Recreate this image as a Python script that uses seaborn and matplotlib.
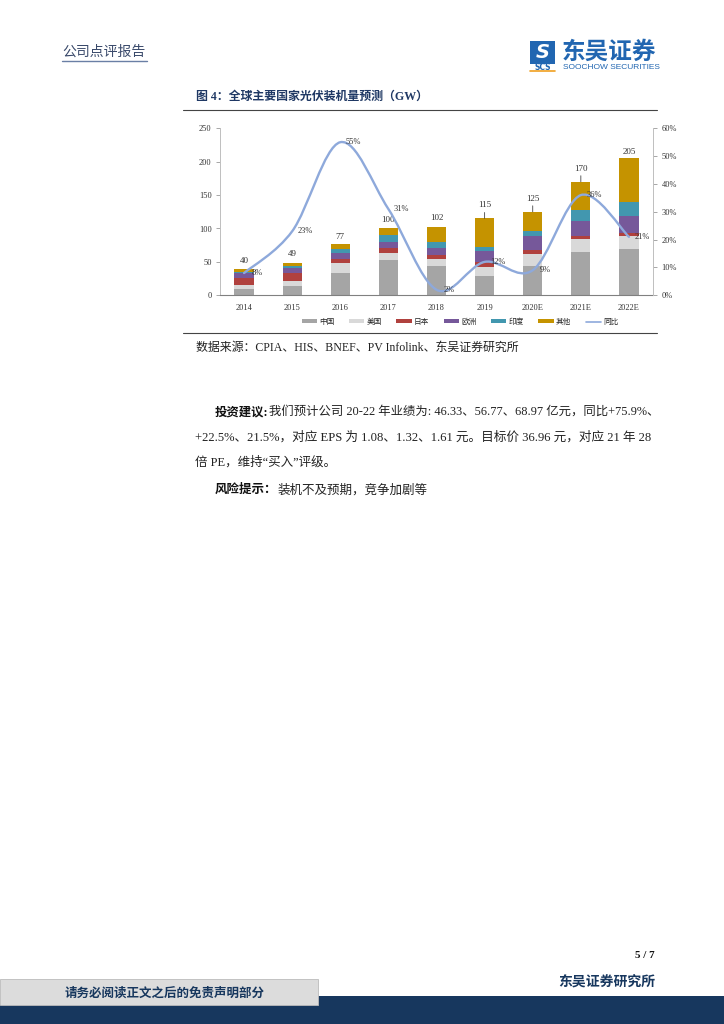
import numpy as np
import matplotlib
matplotlib.use("Agg")
import matplotlib.pyplot as plt
import seaborn as sns
from matplotlib.path import Path
from matplotlib.patches import PathPatch, Patch, Rectangle
from matplotlib.lines import Line2D

# ---------------- data ----------------
years = ['2014', '2015', '2016', '2017', '2018', '2019', '2020E', '2021E', '2022E']
china = [10, 14, 33.5, 53, 44, 29, 44.5, 65, 70]
usa = [6, 8, 15.5, 10.5, 10.5, 14, 18, 19.5, 18.5]
japan = [9.5, 12, 6, 7, 6.5, 7, 5, 4, 4.5]
europe = [8, 7, 8.5, 9.5, 10.5, 16.5, 21.5, 23, 25.5]
india = [1.5, 3, 6, 10.5, 8.5, 6, 8, 15.5, 21.5]
other = [5, 5, 7.5, 9.5, 22, 42.5, 28, 43, 65]
totals = [40, 49, 77, 100, 102, 115, 125, 170, 205]
yoy = [8, 23, 55, 31, 2, 12, 9, 36, 21]
series_names = ['中国', '美国', '日本', '欧洲', '印度', '其他']
line_name = '同比'
left_ticks = [0, 50, 100, 150, 200, 250]
right_ticks = [0, 10, 20, 30, 40, 50, 60]

# ---------------- style ----------------
sns.set_theme(style='white')
plt.rcParams['font.family'] = ['Liberation Serif', 'Noto Sans CJK SC', 'DejaVu Sans']
CJK = ['Noto Sans CJK SC', 'DejaVu Sans']
MIX = ['Liberation Serif', 'Noto Sans CJK SC', 'DejaVu Sans']
colors = ['#A5A5A5', '#D9D9D9', '#B0413E', '#76589A', '#4297AF', '#C59300']
line_color = '#8EA9DB'
navy = '#17375E'
title_blue = '#1F3864'

W, H = 724, 1024
fig = plt.figure(figsize=(W / 100, H / 100), dpi=100)


def fx(px):
    return px / W


def fy(py):
    return 1 - py / H


# ---------------- chart axes ----------------
ax_l, ax_r, ax_t, ax_b = 220, 653, 128.3, 295.3
ax = fig.add_axes([fx(ax_l), fy(ax_b), fx(ax_r - ax_l), (ax_b - ax_t) / H])

layers = np.array([china, usa, japan, europe, india, other])
cum = np.cumsum(layers, axis=0)
for k in reversed(range(len(layers))):
    sns.barplot(x=years, y=cum[k], order=years, color=colors[k], width=0.4,
                saturation=1, linewidth=0, ax=ax)

ax.set_xlim(-0.5, len(years) - 0.5)
ax.set_ylim(0, 250)
ax.set_yticks(left_ticks)
ax.set_yticklabels([str(t) for t in left_ticks])
ax.set_xlabel('')
ax.set_ylabel('')
ax.tick_params(axis='x', which='major', length=0, pad=6, labelsize=6, labelcolor='#333333')
ax.set_xticks(np.arange(len(years) + 1) - 0.5, minor=True)
ax.tick_params(axis='x', which='minor', length=3, width=0.6, color='#666666', direction='out')
ax.tick_params(axis='y', length=3, width=0.6, color='#999999', direction='out',
               labelsize=6, labelcolor='#333333', pad=3, left=True)
ax.spines['top'].set_visible(False)
ax.spines['left'].set_color('#BFBFBF')
ax.spines['left'].set_linewidth(0.7)
ax.spines['bottom'].set_color('#808080')
ax.spines['bottom'].set_linewidth(0.8)
ax.spines['right'].set_visible(False)
ax.grid(False)

# total labels
label_off = [8, 9, 7, 8, 9, 13, 13, 13, 6]
leader = [False, False, False, False, False, True, True, True, False]
for i, t in enumerate(totals):
    ax.annotate(str(t), (i, t), xytext=(0, label_off[i]), textcoords='offset pixels',
                ha='center', va='center', fontsize=6.5, color='#333333', family=MIX)
    if leader[i]:
        ax.annotate('', xy=(i, t), xytext=(0, 6), textcoords='offset pixels',
                    arrowprops=dict(arrowstyle='-', lw=0.6, color='#444444',
                                    shrinkA=0, shrinkB=0))

# ---------------- line (right axis) ----------------
ax2 = ax.twinx()
ax2.set_ylim(0, 0.6)
ax2.set_yticks([t / 100 for t in right_ticks])
ax2.set_yticklabels([f'{t}%' for t in right_ticks])
ax2.tick_params(axis='y', length=3, width=0.6, color='#999999', direction='out',
                labelsize=6, labelcolor='#333333', pad=3)
ax2.spines['top'].set_visible(False)
ax2.spines['left'].set_visible(False)
ax2.spines['bottom'].set_visible(False)
ax2.spines['right'].set_color('#BFBFBF')
ax2.spines['right'].set_linewidth(0.7)
ax2.grid(False)

xs = np.arange(len(years), dtype=float)
ys = np.array(yoy, dtype=float) / 100
pts = np.column_stack([xs, ys])
verts = [tuple(pts[0])]
codes = [Path.MOVETO]
n = len(pts)
for i in range(n - 1):
    p0 = pts[i - 1] if i > 0 else pts[i]
    p1 = pts[i]
    p2 = pts[i + 1]
    p3 = pts[i + 2] if i + 2 < n else pts[i + 1]
    c1 = p1 + (p2 - p0) / 6
    c2 = p2 - (p3 - p1) / 6
    verts += [tuple(c1), tuple(c2), tuple(p2)]
    codes += [Path.CURVE4] * 3
ax2.add_patch(PathPatch(Path(verts, codes), fill=False, edgecolor=line_color, lw=1.7,
                        capstyle='round', joinstyle='round', zorder=5))
for i, v in enumerate(yoy):
    ax2.annotate(f'{v}%', (i, v / 100), xytext=(13, 0), textcoords='offset pixels',
                 ha='center', va='center', fontsize=6, color='#333333', family=MIX,
                 zorder=6)

# legend
handles = [Patch(facecolor=c, edgecolor='none') for c in colors]
handles.append(Line2D([0], [0], color=line_color, lw=1.2))
fig.legend(handles, series_names + [line_name], loc='center',
           bbox_to_anchor=(fx(460), fy(322)), ncol=7, frameon=False,
           prop={'family': CJK, 'size': 5.5}, handlelength=2.0, handleheight=0.5,
           handletextpad=0.3, columnspacing=1.9, borderpad=0)

# ---------------- page decorations ----------------
# header
fig.text(fx(62), fy(52), '公司点评报告', fontsize=10, family=CJK, color='#3A4A6B',
         ha='left', va='center')
fig.add_artist(Line2D([fx(62), fx(147)], [fy(61), fy(61)], color='#6A7FA5', lw=1.0))

# logo
fig.add_artist(Rectangle((fx(530), fy(64)), fx(25), 23 / H, facecolor='#2166B1',
                         edgecolor='none'))
fig.text(fx(542.5), fy(52.5), 'S', fontsize=14, color='white', fontweight='bold',
         fontstyle='italic', family=['DejaVu Sans'], ha='center', va='center')
fig.text(fx(542.5), fy(67), 'SCS', fontsize=5.5, color='#2166B1', fontweight='bold',
         family=['DejaVu Sans'], ha='center', va='center')
fig.add_artist(Line2D([fx(530), fx(555)], [fy(71), fy(71)], color='#F0A020', lw=1.2))
fig.text(fx(562), fy(52), '东吴证券', fontsize=17, color='#2166B1', fontweight='bold',
         family=CJK, ha='left', va='center')
fig.text(fx(563), fy(67.5), 'SOOCHOW SECURITIES', fontsize=6, color='#2166B1',
         family=['Liberation Sans', 'DejaVu Sans'], ha='left', va='center')

# chart title
fig.text(fx(196), fy(97), '图 4：全球主要国家光伏装机量预测（GW）', fontsize=8.6,
         fontweight='bold', family=MIX, color=title_blue, ha='left', va='center')
fig.add_artist(Line2D([fx(183), fx(657)], [fy(110), fy(110)], color='#444444', lw=0.8))
fig.add_artist(Line2D([fx(183), fx(657)], [fy(333), fy(333)], color='#444444', lw=0.8))
fig.text(fx(196), fy(348), '数据来源：CPIA、HIS、BNEF、PV Infolink、东吴证券研究所',
         fontsize=8.6, family=MIX, color='#222222', ha='left', va='center')

# body text
fig.canvas.draw()
renderer = fig.canvas.get_renderer()


def rich(x, y, bold, rest, size=9):
    t = fig.text(fx(x), fy(y), bold, fontsize=size, fontweight='bold', family=MIX,
                 color='#111111', ha='left', va='center')
    bb = t.get_window_extent(renderer)
    fig.text(bb.x1 / W, fy(y), rest, fontsize=size, family=MIX, color='#222222',
             ha='left', va='center')


rich(215, 412, '投资建议:', '我们预计公司 20-22 年业绩为: 46.33、56.77、68.97 亿元，同比+75.9%、',
     size=8.9)
fig.text(fx(195), fy(437), '+22.5%、21.5%，对应 EPS 为 1.08、1.32、1.61 元。目标价 36.96 元，对应 21 年 28',
         fontsize=9.1, family=MIX, color='#222222', ha='left', va='center')
fig.text(fx(195), fy(462), '倍 PE，维持“买入”评级。', fontsize=9, family=MIX,
         color='#222222', ha='left', va='center')
rich(215, 490, '风险提示：', '装机不及预期，竞争加剧等')

# footer
fig.text(fx(655), fy(955), '5 / 7', fontsize=8, fontweight='bold', family=MIX,
         color='#111111', ha='right', va='center')
fig.text(fx(655), fy(983), '东吴证券研究所', fontsize=10, fontweight='bold', family=CJK,
         color=navy, ha='right', va='center')
fig.add_artist(Rectangle((fx(318), 0), 1 - fx(318), (H - 996) / H, facecolor=navy,
                         edgecolor='none'))
fig.add_artist(Rectangle((0, 0), 1, (H - 1005) / H, facecolor=navy, edgecolor='none'))
fig.add_artist(Rectangle((0, fy(1005)), fx(318), 26 / H, facecolor='#DCDCDC',
                         edgecolor='#BBBBBB', lw=0.6))
fig.text(fx(65), fy(993), '请务必阅读正文之后的免责声明部分', fontsize=9, fontweight='bold',
         family=CJK, color=navy, ha='left', va='center')

fig.savefig('out.png', dpi=100)
